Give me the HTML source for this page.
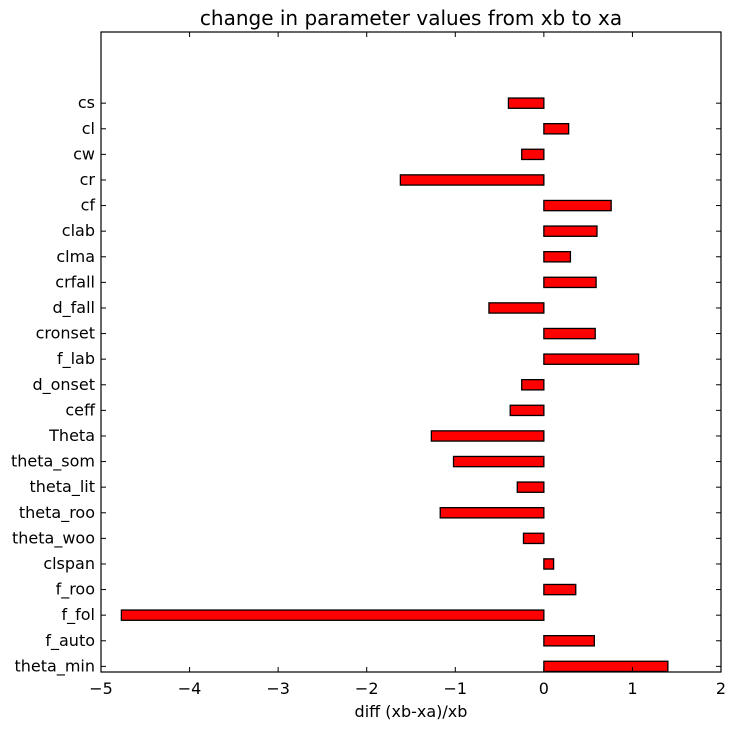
<!DOCTYPE html>
<html><head><meta charset="utf-8"><style>
body{margin:0;background:#fff;font-family:"DejaVu Sans","Liberation Sans",sans-serif}
</style></head><body>
<svg id="chart" width="734" height="730" xmlns="http://www.w3.org/2000/svg" font-family="DejaVu Sans, Liberation Sans, sans-serif">
<rect width="734" height="730" fill="#fff"/>
<text x="411" y="25" font-size="20" text-anchor="middle">change in parameter values from xb to xa</text>
<text x="411" y="717" font-size="16" text-anchor="middle">diff (xb-xa)/xb</text>
<g id="bars"></g><g id="ticks"></g>
<rect x="101" y="32" width="620" height="640" fill="none" stroke="#000" stroke-width="1.2"/>
</svg>
<script>
const categories=["theta_min","f_auto","f_fol","f_roo","clspan","theta_woo","theta_roo","theta_lit","theta_som","Theta","ceff","d_onset","f_lab","cronset","d_fall","crfall","clma","clab","cf","cr","cw","cl","cs"];
const values=[1.4,0.57,-4.77,0.36,0.11,-0.23,-1.17,-0.3,-1.02,-1.27,-0.38,-0.25,1.07,0.58,-0.62,0.59,0.3,0.6,0.76,-1.62,-0.25,0.28,-0.4];
const xTicks=[-5,-4,-3,-2,-1,0,1,2];
const NS="http://www.w3.org/2000/svg";
const L=101,R=721,T=32,B=672;
const xs=v=>L+(v+5)/7*(R-L);
const ys=v=>B-v/25*(B-T);
const bars=document.getElementById('bars'),ticks=document.getElementById('ticks');
function mk(tag,at,parent){const e=document.createElementNS(NS,tag);for(const k in at)e.setAttribute(k,at[k]);parent.appendChild(e);return e;}
categories.forEach((c,i)=>{
  const v=values[i];
  const r=mk('rect',{x:Math.min(xs(0),xs(v)),y:ys(i+0.42),width:Math.abs(xs(v)-xs(0)),height:ys(i+0.02)-ys(i+0.42),fill:'#ff0000',stroke:'#000','stroke-width':1.3},bars);
  
  
  const y=ys(i+0.22);
  mk('line',{x1:L,x2:L+5,y1:y,y2:y,stroke:'#000'},ticks);
  mk('line',{x1:R-5,x2:R,y1:y,y2:y,stroke:'#000'},ticks);
  const t=mk('text',{x:L-6,y:y+5,'font-size':16,'text-anchor':'end'},ticks);
  t.textContent=c;
  
  
});
xTicks.forEach(v=>{
  const x=xs(v);
  mk('line',{x1:x,x2:x,y1:B-5,y2:B,stroke:'#000'},ticks);
  mk('line',{x1:x,x2:x,y1:T,y2:T+5,stroke:'#000'},ticks);
  const t=mk('text',{x:x,y:B+22,'font-size':16,'text-anchor':'middle'},ticks);
  t.textContent=v<0?'\u2212'+Math.abs(v):String(v);
  
  
});
</script>
</body></html>
